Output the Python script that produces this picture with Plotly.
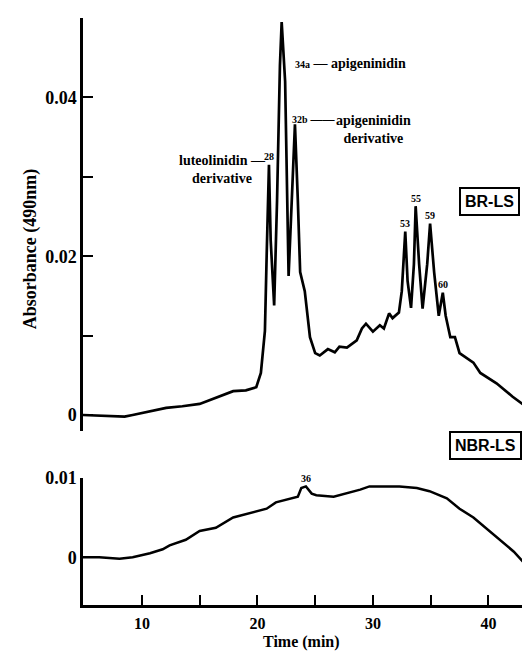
import plotly.graph_objects as go

# ---- data ----
br_time = [4.9, 6.4, 7.75, 8.5, 9.2, 10.7, 12.1, 13.5, 15.0, 15.9, 17.0, 17.9, 19.0, 19.9,
           20.3, 20.5, 20.65, 20.8, 21.0, 21.15, 21.45, 21.7, 21.95, 22.1, 22.4, 22.7,
           23.0, 23.25, 23.5, 23.7, 24.1, 24.55, 25.0, 25.4, 26.1, 26.7, 27.1, 27.75,
           28.6, 29.05, 29.4, 30.0, 30.6, 30.95, 31.4, 31.7, 32.25, 32.5, 32.8, 33.0,
           33.3, 33.55, 33.7, 34.0, 34.3, 34.7, 34.95, 35.3, 35.7, 36.05, 36.3, 36.7,
           37.1, 37.5, 38.7, 39.3, 40.7, 42.1, 43.4]
br_abs = [0.0, -0.0001, -0.0001, -0.0002, 0.0, 0.0005, 0.0009, 0.0011, 0.0014, 0.0019,
          0.0025, 0.003, 0.0031, 0.0035, 0.0053, 0.0085, 0.0106, 0.02, 0.0315, 0.022,
          0.0138, 0.027, 0.044, 0.0495, 0.042, 0.0175, 0.029, 0.0366, 0.027, 0.018,
          0.0156, 0.0098, 0.0078, 0.0075, 0.0083, 0.0079, 0.0086, 0.0085, 0.0094, 0.0109,
          0.0115, 0.0105, 0.0113, 0.0109, 0.0128, 0.0122, 0.0129, 0.0156, 0.0231, 0.0169,
          0.0135, 0.019, 0.0263, 0.019, 0.0134, 0.019, 0.0241, 0.018, 0.0125, 0.0154,
          0.0125, 0.0098, 0.0098, 0.0078, 0.0066, 0.0053, 0.004, 0.0023, 0.0009]

nbr_time = [4.9, 6.3, 8.06, 9.2, 10.7, 11.8, 12.4, 13.8, 15.0, 16.4, 17.9, 19.6, 20.8,
            21.6, 22.8, 23.5, 23.8, 24.2, 24.7, 25.1, 26.6, 27.7, 28.9, 29.7, 30.9,
            32.3, 33.8, 34.9, 36.4, 37.5, 38.7, 39.9, 41.0, 42.2, 43.4]
nbr_abs = [0.0, 0.0, -0.0002, 0.0, 0.0005, 0.001, 0.0015, 0.0022, 0.0033, 0.0037, 0.005,
           0.0056, 0.0061, 0.0069, 0.0073, 0.0076, 0.0087, 0.0089, 0.008, 0.0078, 0.0076,
           0.008, 0.0085, 0.0089, 0.0089, 0.0089, 0.0087, 0.0083, 0.0074, 0.0061, 0.005,
           0.0035, 0.0022, 0.0007, -0.0012]

br_peak_labels = ["28", "34a", "32b", "53", "55", "59", "60"]
br_peak_times = [21.0, 22.1, 23.25, 32.8, 33.7, 34.95, 36.05]
nbr_peak_labels = ["36"]
nbr_peak_times = [24.2]

top_yticks = [0, 0.01, 0.02, 0.03, 0.04, 0.05]
top_yticktext = ["0", "", "0.02", "", "0.04", ""]
bot_yticks = [0, 0.01]
bot_yticktext = ["0", "0.01"]
xticks = [10, 15, 20, 25, 30, 35, 40]
xticktext = ["10", "", "20", "", "30", "", "40"]

# ---- figure ----
SERIF = "Liberation Serif"
SANS = "Liberation Sans"


def bold(lst):
    return ["<b>%s</b>" % s if s else "" for s in lst]


fig = go.Figure()
fig.add_trace(go.Scatter(x=br_time, y=br_abs, mode="lines",
                         line=dict(color="black", width=2.7), xaxis="x", yaxis="y",
                         showlegend=False, hoverinfo="skip"))
fig.add_trace(go.Scatter(x=nbr_time, y=nbr_abs, mode="lines",
                         line=dict(color="black", width=2.5), xaxis="x2", yaxis="y2",
                         showlegend=False, hoverinfo="skip"))

xr = [4.9, 43.6]
axis_common = dict(showgrid=False, zeroline=False, showline=True, linecolor="black",
                   linewidth=2.5, ticks="inside", ticklen=10, tickwidth=2, tickcolor="black")

# page body has an 8px margin, so the figure is 522x644 placed at (8, 8)
fig.update_layout(
    width=522, height=644,
    margin=dict(l=75, r=0, t=7, b=47),
    paper_bgcolor="white", plot_bgcolor="white",
    xaxis=dict(domain=[0, 1], range=xr, anchor="y", visible=False, matches="x2"),
    yaxis=dict(domain=[0.2966, 1.0], range=[-0.002, 0.05], anchor="x",
               tickvals=top_yticks, ticktext=bold(top_yticktext),
               tickfont=dict(family=SERIF, size=18, color="black"), **axis_common),
    xaxis2=dict(domain=[0, 1], range=xr, anchor="y2",
                tickvals=xticks, ticktext=bold(xticktext), ticklabelstandoff=2,
                tickfont=dict(family=SERIF, size=16, color="black"), **axis_common),
    yaxis2=dict(domain=[0, 0.2169], range=[-0.006, 0.01], anchor="x2",
                tickvals=bot_yticks, ticktext=bold(bot_yticktext),
                tickfont=dict(family=SERIF, size=18, color="black"), **axis_common),
)

# axis titles
fig.add_annotation(text="<b>Absorbance (490nm)</b>", xref="paper", yref="paper",
                   x=(18 - 83) / 447, y=(605 - 247) / 590, textangle=-90, showarrow=False,
                   font=dict(family=SERIF, size=18, color="black"))
fig.add_annotation(text="<b>Time (min)</b>", xref="paper", yref="paper",
                   x=(301 - 83) / 447, y=(605 - 652) / 590, yanchor="bottom",
                   showarrow=False, borderpad=0,
                   font=dict(family=SERIF, size=16, color="black"))


def val_at(times, vals, t):
    return vals[min(range(len(times)), key=lambda i: abs(times[i] - t))]


small = dict(family=SERIF, size=10, color="black")
name = dict(family=SERIF, size=14, color="black")

# peak number labels
for lab, t in zip(br_peak_labels, br_peak_times):
    if lab in ("34a", "32b"):
        continue
    v = val_at(br_time, br_abs, t)
    fig.add_annotation(text="<b>%s</b>" % lab, x=t, y=v, xref="x", yref="y",
                       yshift=8, showarrow=False, font=small)
for lab, t in zip(nbr_peak_labels, nbr_peak_times):
    v = val_at(nbr_time, nbr_abs, t)
    fig.add_annotation(text="<b>%s</b>" % lab, x=t, y=v, xref="x2", yref="y2",
                       yshift=8, showarrow=False, font=small)

# named peaks
t28 = br_peak_times[0]
fig.add_annotation(text="<b>luteolinidin —<br>derivative</b>", x=t28, y=0.0333,
                   xref="x", yref="y", xanchor="right", yanchor="top", xshift=-1,
                   align="center", showarrow=False, font=name)
t34 = br_peak_times[1]
fig.add_annotation(text="<b><span style='font-size:10px'>34a</span> — apigeninidin</b>",
                   x=t34, y=0.0443, xref="x", yref="y", xanchor="left", xshift=11,
                   showarrow=False, font=name)
t32 = br_peak_times[2]
fig.add_annotation(text="<b><span style='font-size:10px'>32b</span>&#8201;<span style='font-size:12px'>——</span></b>",
                   x=t32, y=0.0374, xref="x", yref="y", xanchor="left", xshift=-4,
                   showarrow=False, borderpad=0, font=name)
fig.add_annotation(text="<b>apigeninidin<br>derivative</b>", x=t32, y=0.0382,
                   xref="x", yref="y", xanchor="left", yanchor="top", xshift=40,
                   align="center", showarrow=False, borderpad=0, font=name)

# sample boxes
fig.add_annotation(text="<b>BR-LS</b>", xref="paper", yref="paper", x=(520 - 83) / 447,
                   y=(605 - 185) / 590, xanchor="right", showarrow=False,
                   font=dict(family=SANS, size=16, color="black"),
                   bordercolor="black", borderwidth=2, borderpad=4, bgcolor="white")
fig.add_annotation(text="<b>NBR-LS</b>", xref="paper", yref="paper", x=(522 - 83) / 447,
                   y=(605 - 459) / 590, xanchor="right", showarrow=False,
                   font=dict(family=SANS, size=16, color="black"),
                   bordercolor="black", borderwidth=2, borderpad=4, bgcolor="white")

fig.write_html("out.html")
